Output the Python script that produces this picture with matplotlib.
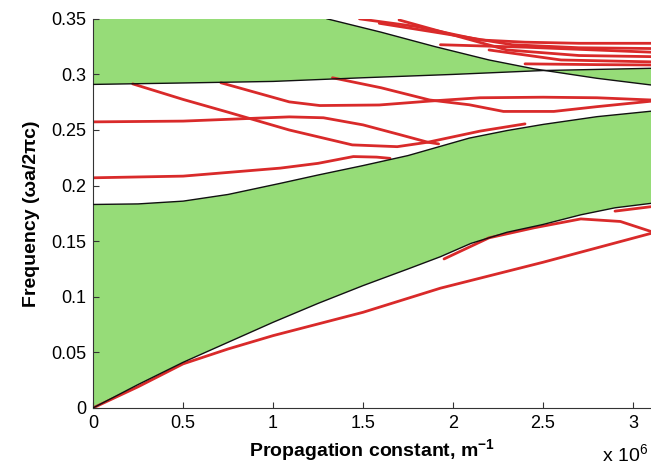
import numpy as np
import matplotlib
matplotlib.use("Agg")
from matplotlib import pyplot as plt

plt.rcParams['font.family'] = ['Liberation Sans', 'DejaVu Sans']
plt.rcParams['mathtext.fontset'] = 'custom'
plt.rcParams['mathtext.rm'] = 'Liberation Sans'
plt.rcParams['mathtext.bf'] = 'Liberation Sans:bold'

# propagation constant in units of 1e6 m^-1, frequency in a/lambda

# lower green band
band1_lo_x = [0, 0.25, 0.5, 0.75, 1.0, 1.25, 1.5, 1.75, 1.93, 2.1, 2.3, 2.5, 2.71, 2.9, 3.1]
band1_lo_y = [0, 0.021, 0.041, 0.059, 0.077, 0.094, 0.110, 0.125, 0.136, 0.148, 0.158,
              0.165, 0.1737, 0.180, 0.184]
band1_hi_x = [0, 0.25, 0.5, 0.75, 1.04, 1.25, 1.5, 1.75, 2.09, 2.3, 2.5, 2.8, 3.1]
band1_hi_y = [0.183, 0.1835, 0.186, 0.192, 0.202, 0.2095, 0.218, 0.227, 0.2427, 0.2495,
              0.255, 0.262, 0.2669]

# upper green band
band2_lo_x = [0, 0.5, 1.0, 1.5, 2.0, 2.5, 3.1]
band2_lo_y = [0.291, 0.2923, 0.2937, 0.297, 0.300, 0.3035, 0.3055]
band2_hi_x = [0, 1.3, 1.45, 1.6, 1.9, 2.2, 2.45, 2.8, 3.1]
band2_hi_y = [0.35, 0.35, 0.344, 0.338, 0.325, 0.313, 0.305, 0.2965, 0.2905]

# guided modes (red)
modes = [
    ([0, 0.25, 0.5, 0.75, 1.0, 1.5, 1.93, 2.5, 3.1],
     [0, 0.019, 0.0396, 0.053, 0.065, 0.086, 0.1077, 0.131, 0.157]),
    ([1.95, 2.2, 2.45, 2.71, 2.93, 3.1],
     [0.134, 0.153, 0.162, 0.170, 0.1677, 0.1587]),
    ([2.9, 3.1],
     [0.177, 0.181]),
    ([0, 0.5, 1.04, 1.25, 1.446, 1.576, 1.65],
     [0.207, 0.2085, 0.2157, 0.220, 0.2261, 0.2256, 0.2245]),
    ([0, 0.5, 1.09, 1.28, 1.5, 1.7, 1.86, 1.92],
     [0.2573, 0.258, 0.2618, 0.261, 0.2546, 0.246, 0.239, 0.2375]),
    ([0.22, 0.5, 0.75, 1.09, 1.44, 1.69, 1.86, 2.15, 2.4],
     [0.2915, 0.2775, 0.266, 0.250, 0.2366, 0.235, 0.239, 0.249, 0.2555]),
    ([0.71, 1.09, 1.26, 1.59, 1.87, 2.15, 2.5, 2.8, 3.1],
     [0.2925, 0.2753, 0.272, 0.2725, 0.276, 0.279, 0.2795, 0.279, 0.277]),
    ([1.33, 1.6, 1.87, 2.09, 2.28, 2.56, 2.8, 3.1],
     [0.297, 0.288, 0.277, 0.2727, 0.2667, 0.2667, 0.271, 0.2759]),
    ([1.48, 1.8, 2.15, 2.4, 2.7, 3.1],
     [0.350, 0.343, 0.331, 0.329, 0.328, 0.328]),
    ([1.59, 1.9, 2.33, 2.7, 3.1],
     [0.346, 0.338, 0.3267, 0.324, 0.3233]),
    ([1.93, 2.4, 3.1],
     [0.3267, 0.3245, 0.320]),
    ([1.7, 2.3, 2.7, 3.1],
     [0.349, 0.322, 0.317, 0.316]),
    ([2.2, 2.6, 3.1],
     [0.322, 0.313, 0.3113]),
    ([2.4, 2.8, 3.1],
     [0.3095, 0.3088, 0.3085]),
]

x_ticks = [0, 0.5, 1, 1.5, 2, 2.5, 3]
x_labels = ['0', '0.5', '1', '1.5', '2', '2.5', '3']
y_ticks = [0, 0.05, 0.1, 0.15, 0.2, 0.25, 0.3, 0.35]
y_labels = ['0', '0.05', '0.1', '0.15', '0.2', '0.25', '0.3', '0.35']

green = '#96dc78'
red = '#d92a2a'

fig = plt.figure(figsize=(6.51, 4.71), dpi=100)
ax = fig.add_axes([0.143, 0.134, 0.857, 0.826])

ax.fill(np.r_[band1_lo_x, band1_hi_x[::-1]], np.r_[band1_lo_y, band1_hi_y[::-1]],
        color=green, lw=0, zorder=1)
ax.fill(np.r_[band2_lo_x, band2_hi_x[::-1]], np.r_[band2_lo_y, band2_hi_y[::-1]],
        color=green, lw=0, zorder=1)

for mx, my in modes:
    ax.plot(mx, my, color=red, lw=2.0, zorder=2, solid_capstyle='round')

ax.plot(band1_lo_x, band1_lo_y, color='#111111', lw=1.0, zorder=3)
ax.plot(band1_hi_x, band1_hi_y, color='#111111', lw=1.0, zorder=3)
ax.plot(band2_lo_x, band2_lo_y, color='#111111', lw=1.0, zorder=3)
ax.plot(band2_hi_x[1:], band2_hi_y[1:], color='#111111', lw=1.0, zorder=3)

ax.set_xlim(0, 3.1)
ax.set_ylim(0, 0.35)
ax.set_xticks(x_ticks)
ax.set_xticklabels(x_labels)
ax.set_yticks(y_ticks)
ax.set_yticklabels(y_labels)
ax.tick_params(direction='in', length=4, labelsize=13, pad=5, color='#333333')
ax.spines['top'].set_visible(False)
ax.spines['right'].set_visible(False)
for s in ['left', 'bottom']:
    ax.spines[s].set_color('#333333')

ax.set_xlabel(r'Propagation constant, m$^{\mathbf{-1}}$', fontsize=14,
              fontweight='bold', labelpad=4)
ax.set_ylabel('Frequency (ωa/2πc)', fontsize=14, fontweight='bold', labelpad=8)
fig.text(0.925, 0.01, r'x 10$^{6}$', fontsize=14, ha='left', va='bottom')

fig.savefig('out.png', dpi=100)
